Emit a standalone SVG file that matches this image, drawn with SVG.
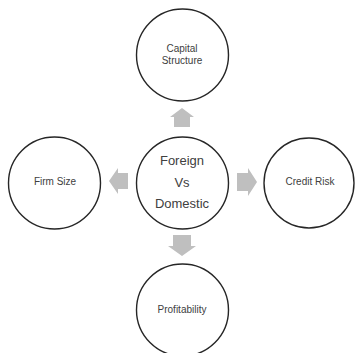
<svg xmlns="http://www.w3.org/2000/svg" width="355" height="353" viewBox="0 0 355 353">
<style>
.node{fill:#ffffff;stroke:#262626;stroke-width:1.4}
.lbl{font-family:"Liberation Sans",Arial,sans-serif;font-size:10px;fill:#404040;text-anchor:middle}
.big{font-size:13px}
.arrow{fill:#bfbfbf;stroke:none}
</style>
<rect width="355" height="353" fill="#ffffff"/>
<g id="connectors">
<polygon class="arrow" points="182,108 194,117 190,117 190,127 174,127 174,117 170,117"/>
<polygon class="arrow" points="182,256 196,246 191,246 191,235 173,235 173,246 168,246"/>
<polygon class="arrow" points="109,181 118,168 118,173 128,173 128,189 118,189 118,194"/>
<polygon class="arrow" points="257,182 248,168 248,173 237,173 237,191 248,191 248,196"/>
</g>
<g id="center">
<circle class="node" cx="182.5" cy="183" r="46"/>
<text class="lbl big" x="182" y="165">Foreign</text>
<text class="lbl big" x="182" y="187">Vs</text>
<text class="lbl big" x="182" y="208">Domestic</text>
</g>
<g id="capital-structure">
<circle class="node" cx="182.5" cy="55" r="46"/>
<text class="lbl" x="182" y="52">Capital</text>
<text class="lbl" x="182" y="64">Structure</text>
</g>
<g id="firm-size">
<circle class="node" cx="54.5" cy="183" r="46"/>
<text class="lbl" x="55" y="185">Firm Size</text>
</g>
<g id="credit-risk">
<circle class="node" cx="309" cy="183" r="45"/>
<text class="lbl" x="310" y="185">Credit Risk</text>
</g>
<g id="profitability">
<circle class="node" cx="182.5" cy="310" r="46"/>
<text class="lbl" x="182" y="313">Profitability</text>
</g>
</svg>
